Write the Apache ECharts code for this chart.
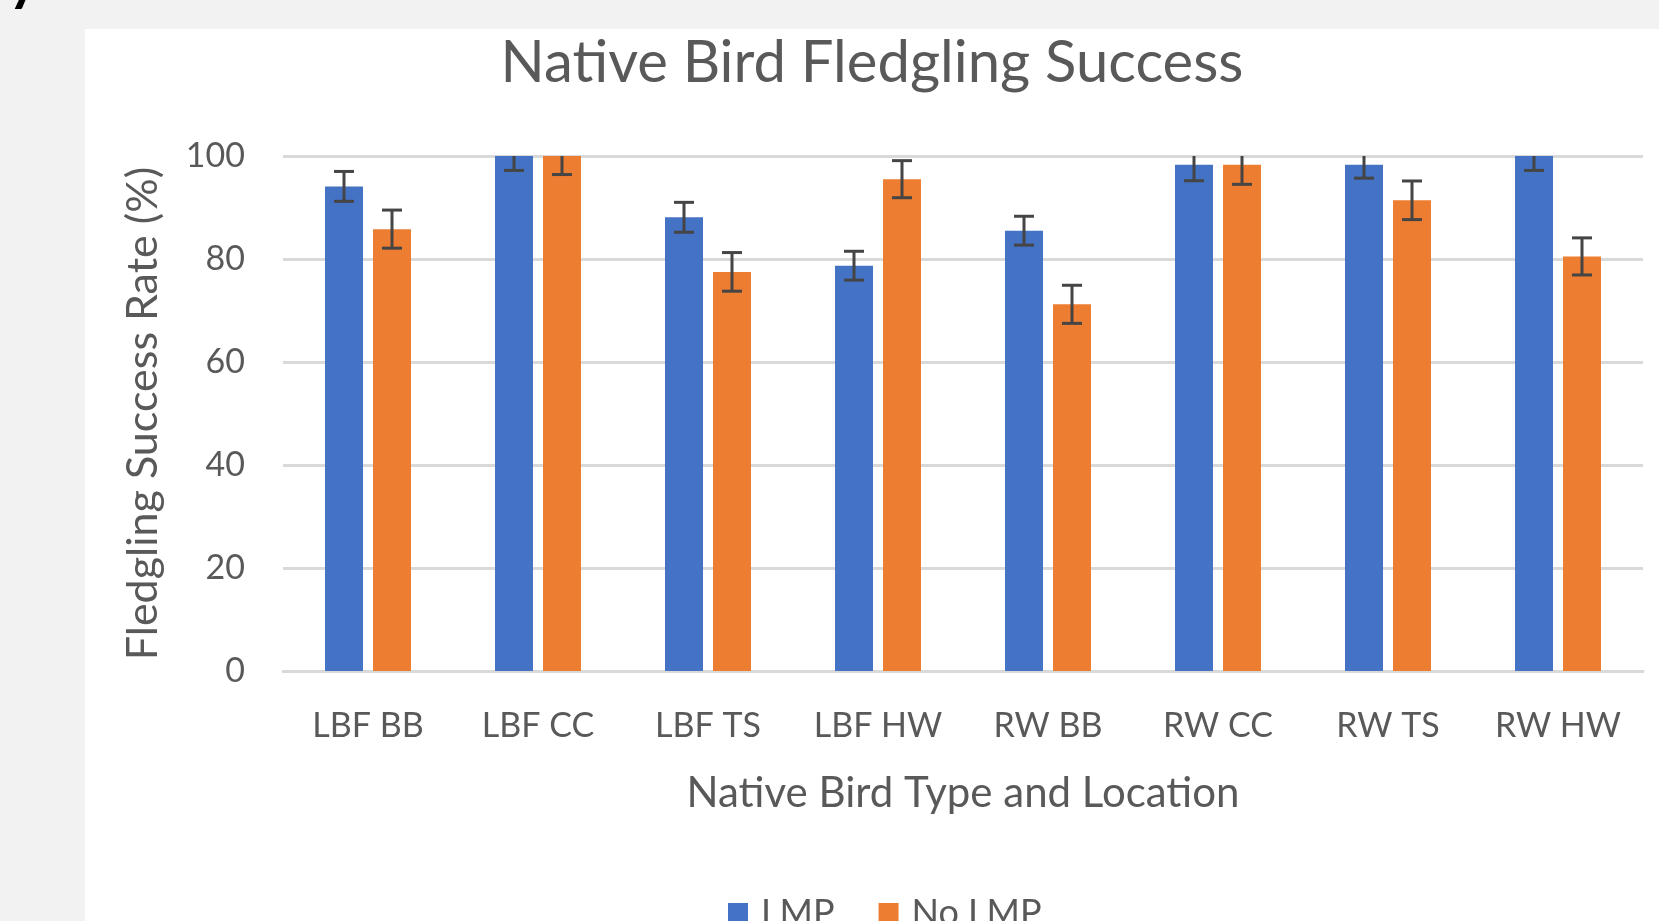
<!DOCTYPE html>
<html>
<head>
<meta charset="utf-8">
<script src="https://cdn.jsdelivr.net/npm/echarts@6/dist/echarts.min.js"></script>
<style>
  html, body { margin: 0; padding: 0; background: #f2f2f2; width: 1659px; height: 921px; overflow: hidden; }
  #frag { position: absolute; left: 9px; top: -51px; font: 900 52px Lato, sans-serif; color: #000; line-height: normal; }
  #chart { position: absolute; left: 85px; top: 29px; width: 1574px; height: 892px; background: #ffffff; }
</style>
</head>
<body>
<div id="frag">y</div>
<div id="chart"></div>
<script>
const categories = ['LBF BB', 'LBF CC', 'LBF TS', 'LBF HW', 'RW BB', 'RW CC', 'RW TS', 'RW HW'];
const seriesNames = ['LMP', 'No LMP'];
const lmpValues = [94.1, 100, 88.1, 78.7, 85.5, 98.3, 98.3, 100];
const noLmpValues = [85.8, 100, 77.5, 95.5, 71.2, 98.3, 91.4, 80.5];
const lmpErrors = [2.9, 2.8, 2.9, 2.8, 2.8, 3.1, 2.6, 2.8];
const noLmpErrors = [3.7, 3.6, 3.75, 3.6, 3.7, 3.8, 3.75, 3.6];
const yTicks = { min: 0, max: 100, interval: 20 };

const FONT = 'Lato, "Open Sans", sans-serif';
const TXT = '#595959';
const BAR_W = 38;
const BAR_GAP = 10;

function errorSeries(name, values, errors, side) {
  return {
    type: 'custom',
    name: name + ' error',
    clip: true,
    z: 5,
    silent: true,
    data: values.map((v, i) => [i, v, errors[i]]),
    encode: { x: 0, y: 1 },
    renderItem: function (params, api) {
      const i = api.value(0), v = api.value(1), e = api.value(2);
      const off = side * (BAR_W + BAR_GAP) / 2;
      const top = api.coord([i, v + e]);
      const bot = api.coord([i, v - e]);
      const x = top[0] + off;
      const cap = 10;
      const style = { stroke: '#454545', lineWidth: 3 };
      return {
        type: 'group',
        children: [
          { type: 'line', shape: { x1: x, y1: top[1], x2: x, y2: bot[1] }, style: style },
          { type: 'line', shape: { x1: x - cap, y1: top[1], x2: x + cap, y2: top[1] }, style: style },
          { type: 'line', shape: { x1: x - cap, y1: bot[1], x2: x + cap, y2: bot[1] }, style: style }
        ]
      };
    }
  };
}

const chart = echarts.init(document.getElementById('chart'), null, { renderer: 'canvas' });
chart.setOption({
  animation: false,
  backgroundColor: '#ffffff',
  textStyle: { fontFamily: FONT },
  title: {
    text: 'Native Bird Fledgling Success',
    left: 'center',
    top: 0,
    textStyle: { fontFamily: FONT, fontSize: 58, fontWeight: 'normal', color: TXT }
  },
  legend: {
    data: seriesNames,
    left: 643,
    top: 866,
    padding: 0,
    icon: 'rect',
    itemWidth: 20,
    itemHeight: 20,
    itemGap: 44,
    textStyle: { fontFamily: FONT, fontSize: 36, color: TXT, padding: [0, 0, 0, 8] }
  },
  grid: { left: 198, right: 16, top: 127, bottom: 250 },
  xAxis: {
    type: 'category',
    data: categories,
    name: 'Native Bird Type and Location',
    nameLocation: 'middle',
    nameGap: 101,
    nameTextStyle: { fontFamily: FONT, fontSize: 42, color: TXT },
    axisLine: { show: true, lineStyle: { color: '#d9d9d9', width: 3 } },
    axisTick: { show: false },
    axisLabel: { fontFamily: FONT, fontSize: 34, color: TXT, margin: 38 }
  },
  yAxis: {
    type: 'value',
    min: yTicks.min,
    max: yTicks.max,
    interval: yTicks.interval,
    name: 'Fledgling Success Rate (%)',
    nameLocation: 'middle',
    nameGap: 118,
    nameTextStyle: { fontFamily: FONT, fontSize: 43, color: TXT },
    axisLine: { show: false },
    axisTick: { show: false },
    axisLabel: { fontFamily: FONT, fontSize: 34, color: TXT, margin: 38 },
    splitLine: { lineStyle: { color: '#d9d9d9', width: 3 } }
  },
  series: [
    {
      type: 'bar', name: seriesNames[0], data: lmpValues,
      barWidth: BAR_W, barGap: (BAR_GAP / BAR_W * 100) + '%',
      itemStyle: { color: '#4472c4' }
    },
    {
      type: 'bar', name: seriesNames[1], data: noLmpValues,
      barWidth: BAR_W, barGap: (BAR_GAP / BAR_W * 100) + '%',
      itemStyle: { color: '#ed7d31' }
    },
    errorSeries(seriesNames[0], lmpValues, lmpErrors, -1),
    errorSeries(seriesNames[1], noLmpValues, noLmpErrors, 1)
  ]
});
</script>
</body>
</html>
